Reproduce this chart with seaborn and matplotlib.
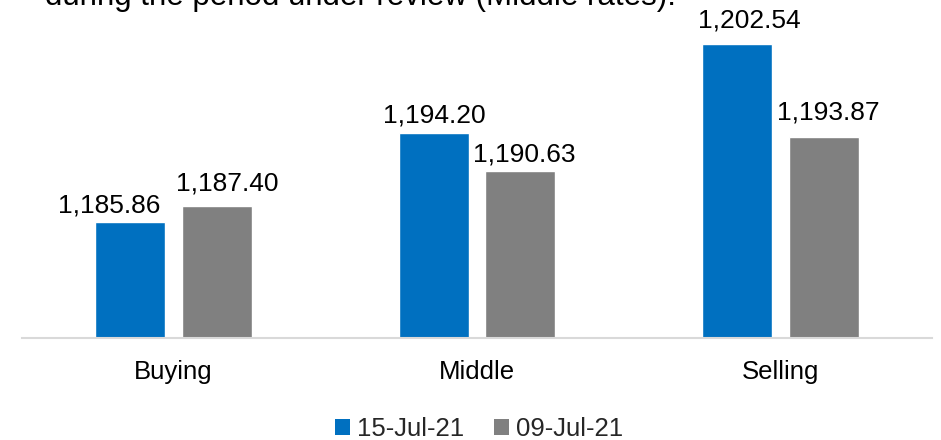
import matplotlib
matplotlib.use("Agg")
import matplotlib.pyplot as plt
import seaborn as sns
import pandas as pd
from matplotlib.patches import Patch

# Exchange rates by quote type for two dates
categories = ["Buying", "Middle", "Selling"]
dates = ["15-Jul-21", "09-Jul-21"]
rates_15_jul = [1185.86, 1194.20, 1202.54]
rates_09_jul = [1187.40, 1190.63, 1193.87]
colors = ["#0070C0", "#808080"]
caption = "during the period under review (Middle rates)."

# Hand-placed value labels: horizontal shift and gap above the bar (pixels)
label_dx = [[-21, 1, 12], [10, 3.5, 4]]
label_gap = [[10, 11, 17], [15, 10, 17]]

df = pd.DataFrame({
    "Rate": categories * 2,
    "Date": [dates[0]] * 3 + [dates[1]] * 3,
    "Value": rates_15_jul + rates_09_jul,
})

sns.set_theme(style="white")
plt.rcParams["font.family"] = ["Liberation Sans", "DejaVu Sans"]

W, H = 941, 440
fig = plt.figure(figsize=(W / 100, H / 100), dpi=100)
ax = fig.add_axes([21.75 / W, 102 / H, 910.5 / W, 320 / H])

sns.barplot(data=df, x="Rate", y="Value", hue="Date", palette=colors,
            width=0.573, gap=0.195, ax=ax, legend=False, saturation=1)

ax.set_ylim(1175, 1205)
ax.set_xlim(-0.5, 2.5)

for si, cont in enumerate(ax.containers):
    for ci, bar in enumerate(cont):
        v = bar.get_height()
        xc = bar.get_x() + bar.get_width() / 2
        ax.annotate(f"{v:,.2f}", xy=(xc, v),
                    xytext=(label_dx[si][ci], label_gap[si][ci]),
                    textcoords="offset pixels", ha="center", va="baseline",
                    fontsize=19, color="#000000", annotation_clip=False)

for s in ["top", "right", "left"]:
    ax.spines[s].set_visible(False)
ax.spines["bottom"].set_color("#D9D9D9")
ax.spines["bottom"].set_linewidth(1.5)
ax.set_yticks([])
ax.set_xlabel("")
ax.set_ylabel("")
ax.tick_params(axis="x", length=0, labelsize=18.5, pad=16, colors="#000000")

handles = [Patch(facecolor=c, edgecolor="none") for c in colors]
fig.legend(handles, dates, loc="center", bbox_to_anchor=(479 / W, 1 - 429 / H),
           ncol=2, frameon=False, fontsize=18.5, handlelength=0.6,
           handleheight=0.6, handletextpad=0.27, columnspacing=1.13,
           borderpad=0)

fig.text(45 / W, 1 - 4.5 / H, caption, fontsize=22.5, va="baseline",
         ha="left", color="#000000")

fig.savefig("out.png", dpi=100)
